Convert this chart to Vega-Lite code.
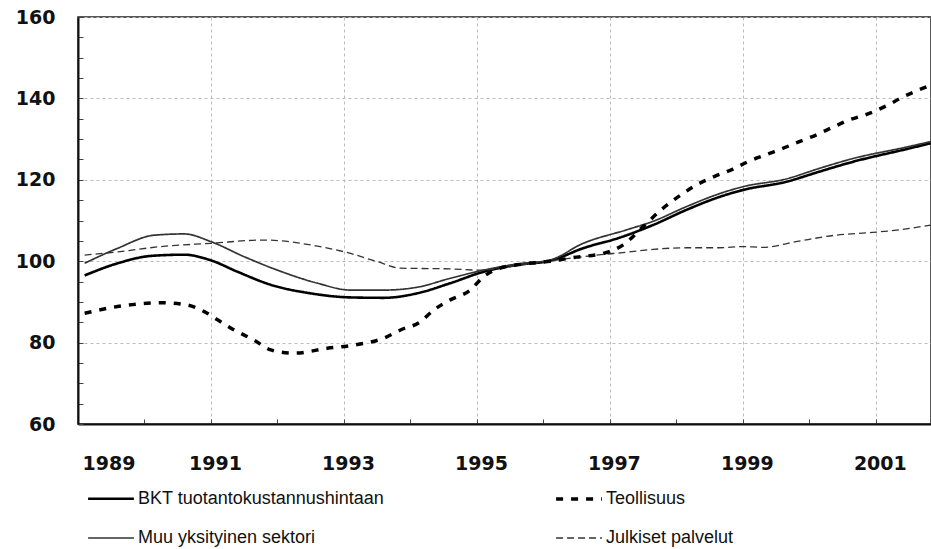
{
  "$schema": "https://vega.github.io/schema/vega-lite/v6.json",
  "width": 853,
  "height": 407,
  "autosize": "none",
  "padding": {"left": 78, "top": 17, "right": 0, "bottom": 125},
  "background": "white",
  "config": {
    "view": {"stroke": "#222", "strokeWidth": 1.5},
    "axis": {"labelFont": "DejaVu Sans", "labelFontWeight": "bold", "labelFontSize": 19, "labelColor": "#111", "title": null}
  },
  "data": {"values": [
    {"s": "BKT tuotantokustannushintaan", "t": 1989.1, "v": 96.5},
    {"s": "BKT tuotantokustannushintaan", "t": 1989.6, "v": 99.5},
    {"s": "BKT tuotantokustannushintaan", "t": 1990.1, "v": 101.3},
    {"s": "BKT tuotantokustannushintaan", "t": 1990.6, "v": 101.6},
    {"s": "BKT tuotantokustannushintaan", "t": 1991.0, "v": 100.2},
    {"s": "BKT tuotantokustannushintaan", "t": 1991.4, "v": 97.4},
    {"s": "BKT tuotantokustannushintaan", "t": 1991.9, "v": 94.2},
    {"s": "BKT tuotantokustannushintaan", "t": 1992.5, "v": 92.1},
    {"s": "BKT tuotantokustannushintaan", "t": 1993.1, "v": 91.1},
    {"s": "BKT tuotantokustannushintaan", "t": 1993.6, "v": 91.0},
    {"s": "BKT tuotantokustannushintaan", "t": 1994.1, "v": 92.1},
    {"s": "BKT tuotantokustannushintaan", "t": 1994.6, "v": 94.6},
    {"s": "BKT tuotantokustannushintaan", "t": 1995.1, "v": 97.4},
    {"s": "BKT tuotantokustannushintaan", "t": 1995.6, "v": 99.1},
    {"s": "BKT tuotantokustannushintaan", "t": 1996.1, "v": 100.1},
    {"s": "BKT tuotantokustannushintaan", "t": 1996.6, "v": 103.2},
    {"s": "BKT tuotantokustannushintaan", "t": 1997.15, "v": 105.8},
    {"s": "BKT tuotantokustannushintaan", "t": 1997.65, "v": 108.9},
    {"s": "BKT tuotantokustannushintaan", "t": 1998.15, "v": 112.6},
    {"s": "BKT tuotantokustannushintaan", "t": 1998.65, "v": 115.8},
    {"s": "BKT tuotantokustannushintaan", "t": 1999.0, "v": 117.5},
    {"s": "BKT tuotantokustannushintaan", "t": 1999.65, "v": 119.5},
    {"s": "BKT tuotantokustannushintaan", "t": 2000.15, "v": 122.0},
    {"s": "BKT tuotantokustannushintaan", "t": 2000.65, "v": 124.4},
    {"s": "BKT tuotantokustannushintaan", "t": 2001.45, "v": 127.5},
    {"s": "BKT tuotantokustannushintaan", "t": 2001.83, "v": 129.0},

    {"s": "Muu yksityinen sektori", "t": 1989.1, "v": 99.5},
    {"s": "Muu yksityinen sektori", "t": 1989.6, "v": 103.2},
    {"s": "Muu yksityinen sektori", "t": 1990.15, "v": 106.4},
    {"s": "Muu yksityinen sektori", "t": 1990.6, "v": 106.7},
    {"s": "Muu yksityinen sektori", "t": 1991.0, "v": 104.8},
    {"s": "Muu yksityinen sektori", "t": 1991.5, "v": 101.1},
    {"s": "Muu yksityinen sektori", "t": 1992.0, "v": 97.8},
    {"s": "Muu yksityinen sektori", "t": 1992.6, "v": 94.6},
    {"s": "Muu yksityinen sektori", "t": 1993.1, "v": 92.9},
    {"s": "Muu yksityinen sektori", "t": 1993.6, "v": 92.9},
    {"s": "Muu yksityinen sektori", "t": 1994.1, "v": 93.6},
    {"s": "Muu yksityinen sektori", "t": 1994.6, "v": 95.8},
    {"s": "Muu yksityinen sektori", "t": 1995.1, "v": 97.8},
    {"s": "Muu yksityinen sektori", "t": 1995.6, "v": 99.3},
    {"s": "Muu yksityinen sektori", "t": 1996.1, "v": 100.3},
    {"s": "Muu yksityinen sektori", "t": 1996.6, "v": 104.4},
    {"s": "Muu yksityinen sektori", "t": 1997.25, "v": 107.7},
    {"s": "Muu yksityinen sektori", "t": 1997.65, "v": 109.8},
    {"s": "Muu yksityinen sektori", "t": 1998.15, "v": 113.4},
    {"s": "Muu yksityinen sektori", "t": 1998.65, "v": 116.6},
    {"s": "Muu yksityinen sektori", "t": 1999.0, "v": 118.3},
    {"s": "Muu yksityinen sektori", "t": 1999.65, "v": 120.2},
    {"s": "Muu yksityinen sektori", "t": 2000.15, "v": 122.8},
    {"s": "Muu yksityinen sektori", "t": 2000.65, "v": 125.2},
    {"s": "Muu yksityinen sektori", "t": 2001.45, "v": 128.0},
    {"s": "Muu yksityinen sektori", "t": 2001.83, "v": 129.4},

    {"s": "Julkiset palvelut", "t": 1989.1, "v": 101.5},
    {"s": "Julkiset palvelut", "t": 1989.6, "v": 102.3},
    {"s": "Julkiset palvelut", "t": 1990.25, "v": 103.6},
    {"s": "Julkiset palvelut", "t": 1991.0, "v": 104.4},
    {"s": "Julkiset palvelut", "t": 1991.8, "v": 105.2},
    {"s": "Julkiset palvelut", "t": 1992.5, "v": 104.0},
    {"s": "Julkiset palvelut", "t": 1993.1, "v": 101.9},
    {"s": "Julkiset palvelut", "t": 1993.5, "v": 99.9},
    {"s": "Julkiset palvelut", "t": 1993.85, "v": 98.3},
    {"s": "Julkiset palvelut", "t": 1994.6, "v": 98.1},
    {"s": "Julkiset palvelut", "t": 1995.05, "v": 97.8},
    {"s": "Julkiset palvelut", "t": 1995.6, "v": 98.9},
    {"s": "Julkiset palvelut", "t": 1996.0, "v": 99.8},
    {"s": "Julkiset palvelut", "t": 1996.3, "v": 100.5},
    {"s": "Julkiset palvelut", "t": 1996.8, "v": 101.5},
    {"s": "Julkiset palvelut", "t": 1997.25, "v": 102.2},
    {"s": "Julkiset palvelut", "t": 1997.65, "v": 102.9},
    {"s": "Julkiset palvelut", "t": 1998.15, "v": 103.3},
    {"s": "Julkiset palvelut", "t": 1998.65, "v": 103.3},
    {"s": "Julkiset palvelut", "t": 1999.0, "v": 103.6},
    {"s": "Julkiset palvelut", "t": 1999.3, "v": 103.4},
    {"s": "Julkiset palvelut", "t": 1999.8, "v": 104.8},
    {"s": "Julkiset palvelut", "t": 2000.4, "v": 106.4},
    {"s": "Julkiset palvelut", "t": 2000.9, "v": 107.0},
    {"s": "Julkiset palvelut", "t": 2001.4, "v": 107.8},
    {"s": "Julkiset palvelut", "t": 2001.83, "v": 108.9},

    {"s": "Teollisuus", "t": 1989.1, "v": 87.2},
    {"s": "Teollisuus", "t": 1989.65, "v": 89.0},
    {"s": "Teollisuus", "t": 1990.25, "v": 89.8},
    {"s": "Teollisuus", "t": 1990.65, "v": 89.2},
    {"s": "Teollisuus", "t": 1990.9, "v": 87.6},
    {"s": "Teollisuus", "t": 1991.1, "v": 85.6},
    {"s": "Teollisuus", "t": 1991.35, "v": 83.1},
    {"s": "Teollisuus", "t": 1991.65, "v": 80.6},
    {"s": "Teollisuus", "t": 1991.9, "v": 78.2},
    {"s": "Teollisuus", "t": 1992.25, "v": 77.4},
    {"s": "Teollisuus", "t": 1992.75, "v": 78.6},
    {"s": "Teollisuus", "t": 1993.15, "v": 79.4},
    {"s": "Teollisuus", "t": 1993.6, "v": 81.1},
    {"s": "Teollisuus", "t": 1993.85, "v": 83.1},
    {"s": "Teollisuus", "t": 1994.15, "v": 85.1},
    {"s": "Teollisuus", "t": 1994.35, "v": 88.0},
    {"s": "Teollisuus", "t": 1994.6, "v": 90.5},
    {"s": "Teollisuus", "t": 1994.9, "v": 92.9},
    {"s": "Teollisuus", "t": 1995.1, "v": 96.2},
    {"s": "Teollisuus", "t": 1995.35, "v": 98.3},
    {"s": "Teollisuus", "t": 1995.7, "v": 99.3},
    {"s": "Teollisuus", "t": 1996.1, "v": 100.0},
    {"s": "Teollisuus", "t": 1996.5, "v": 101.0},
    {"s": "Teollisuus", "t": 1996.9, "v": 101.9},
    {"s": "Teollisuus", "t": 1997.2, "v": 104.0},
    {"s": "Teollisuus", "t": 1997.5, "v": 108.5},
    {"s": "Teollisuus", "t": 1997.77, "v": 112.6},
    {"s": "Teollisuus", "t": 1998.07, "v": 116.3},
    {"s": "Teollisuus", "t": 1998.3, "v": 118.7},
    {"s": "Teollisuus", "t": 1998.57, "v": 120.8},
    {"s": "Teollisuus", "t": 1998.85, "v": 122.6},
    {"s": "Teollisuus", "t": 1999.07, "v": 124.4},
    {"s": "Teollisuus", "t": 1999.37, "v": 126.3},
    {"s": "Teollisuus", "t": 1999.6, "v": 127.7},
    {"s": "Teollisuus", "t": 1999.85, "v": 129.4},
    {"s": "Teollisuus", "t": 2000.1, "v": 131.0},
    {"s": "Teollisuus", "t": 2000.35, "v": 132.9},
    {"s": "Teollisuus", "t": 2000.6, "v": 134.7},
    {"s": "Teollisuus", "t": 2000.9, "v": 136.3},
    {"s": "Teollisuus", "t": 2001.15, "v": 138.1},
    {"s": "Teollisuus", "t": 2001.4, "v": 140.3},
    {"s": "Teollisuus", "t": 2001.65, "v": 142.1},
    {"s": "Teollisuus", "t": 2001.83, "v": 143.3}
  ]},
  "mark": {"type": "line", "interpolate": "monotone", "clip": true},
  "encoding": {
    "x": {"field": "t", "type": "quantitative", "scale": {"domain": [1989, 2001.83], "nice": false, "zero": false},
      "axis": {"orient": "bottom", "values": [1989, 1990, 1991, 1992, 1993, 1994, 1995, 1996, 1997, 1998, 1999, 2000, 2001], "format": "d",
        "labelExpr": "datum.value % 2 === 1 ? datum.label : ''", "labelFlush": true, "labelOffset": 4, "labelPadding": 35,
        "ticks": true, "tickSize": -5, "tickColor": "#444", "tickWidth": 1,
        "grid": true, "gridColor": "#bbb", "gridDash": [3, 3],
        "gridOpacity": {"condition": {"test": "datum.value % 2 === 1", "value": 1}, "value": 0},
        "domain": true, "domainColor": "#111", "domainWidth": 2}},
    "y": {"field": "v", "type": "quantitative", "scale": {"domain": [60, 160], "nice": false, "zero": false},
      "axis": {"orient": "left", "values": [60, 65, 70, 75, 80, 85, 90, 95, 100, 105, 110, 115, 120, 125, 130, 135, 140, 145, 150, 155, 160],
        "labelExpr": "datum.value % 20 === 0 ? datum.label : ''", "labelPadding": 28,
        "ticks": true, "tickSize": -5, "tickColor": "#444", "tickWidth": 1,
        "grid": true, "gridColor": "#bbb", "gridDash": [3, 3],
        "gridOpacity": {"condition": {"test": "datum.value % 20 === 0", "value": 1}, "value": 0},
        "domain": true, "domainColor": "#111", "domainWidth": 2}},
    "color": {"field": "s", "type": "nominal",
      "scale": {"domain": ["BKT tuotantokustannushintaan", "Teollisuus", "Muu yksityinen sektori", "Julkiset palvelut"], "range": ["#000000", "#000000", "#333333", "#333333"]},
      "legend": {"orient": "none", "legendX": 8, "legendY": 457, "direction": "horizontal", "columns": 2, "title": null,
        "symbolType": "stroke", "symbolSize": 2100, "labelFont": "Liberation Sans", "labelFontSize": 18, "labelColor": "#111", "labelOffset": 2, "columnPadding": 164, "rowPadding": 6, "labelLimit": 400}},
    "strokeDash": {"field": "s", "type": "nominal",
      "scale": {"domain": ["BKT tuotantokustannushintaan", "Teollisuus", "Muu yksityinen sektori", "Julkiset palvelut"], "range": [[1, 0], [7, 8], [1, 0], [7, 4]]}},
    "strokeWidth": {"field": "s", "type": "nominal",
      "scale": {"type": "ordinal", "domain": ["BKT tuotantokustannushintaan", "Teollisuus", "Muu yksityinen sektori", "Julkiset palvelut"], "range": [2.6, 3.5, 1.7, 1.3]}}
  }
}
